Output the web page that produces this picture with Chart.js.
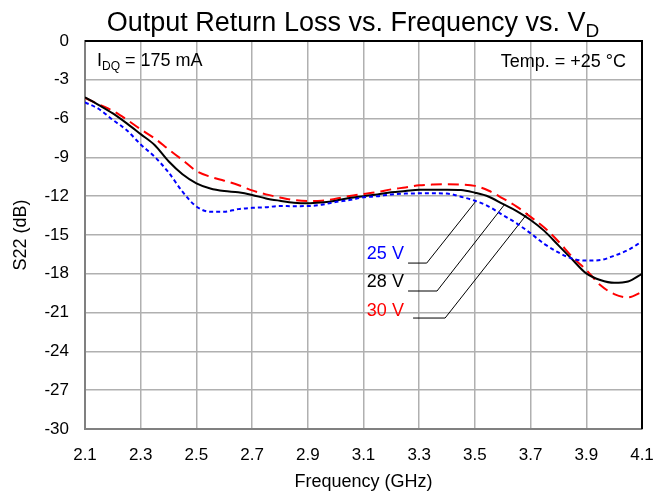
<!DOCTYPE html>
<html>
<head>
<meta charset="utf-8">
<script src="https://cdn.jsdelivr.net/npm/chart.js@4/dist/chart.umd.min.js"></script>
<style>
  html, body { margin: 0; padding: 0; background: #fff; }
  #wrap { width: 656px; height: 493px; }
</style>
</head>
<body>
<div id="wrap"><canvas id="s22Chart" width="656" height="493"></canvas></div>
<script>
// frequency points (GHz)
const freq = [2.1, 2.15, 2.2, 2.25, 2.3, 2.35, 2.4, 2.45, 2.5, 2.55, 2.6, 2.65, 2.7, 2.75, 2.8, 2.85, 2.9, 2.95,
              3.0, 3.05, 3.1, 3.15, 3.2, 3.25, 3.3, 3.35, 3.4, 3.45, 3.5, 3.55, 3.6, 3.65, 3.7, 3.75, 3.8, 3.85,
              3.9, 3.95, 4.0, 4.05, 4.1];

// S22 (dB) per drain voltage
const s22_25V = [-4.74, -5.26, -6.1, -6.9, -8.0, -8.95, -10.16, -11.65, -12.8, -13.2, -13.2, -13.0, -12.9, -12.85,
                 -12.76, -12.77, -12.76, -12.66, -12.45, -12.3, -12.09, -12.0, -11.86, -11.8, -11.78, -11.78, -11.8,
                 -12.04, -12.35, -12.8, -13.46, -14.1, -14.87, -15.7, -16.35, -16.83, -16.98, -16.94, -16.6, -16.16, -15.5];
const s22_28V = [-4.35, -4.95, -5.6, -6.37, -7.2, -8.04, -9.3, -10.3, -11.0, -11.4, -11.6, -11.7, -11.9, -12.17,
                 -12.35, -12.5, -12.55, -12.48, -12.35, -12.14, -12.0, -11.86, -11.7, -11.6, -11.5, -11.5, -11.5,
                 -11.52, -11.73, -12.04, -12.6, -13.15, -13.84, -14.7, -15.8, -16.9, -17.97, -18.48, -18.7, -18.6, -18.0];
const s22_30V = [-4.4, -4.9, -5.4, -6.08, -6.83, -7.53, -8.38, -9.2, -10.05, -10.5, -10.8, -11.13, -11.55, -11.86,
                 -12.1, -12.3, -12.37, -12.35, -12.2, -11.99, -11.83, -11.68, -11.47, -11.32, -11.16, -11.1, -11.08,
                 -11.1, -11.2, -11.58, -12.17, -12.8, -13.6, -14.44, -15.5, -16.7, -17.7, -18.87, -19.57, -19.82, -19.4];

const xTicks = [2.1, 2.3, 2.5, 2.7, 2.9, 3.1, 3.3, 3.5, 3.7, 3.9, 4.1];
const yTicks = [0, -3, -6, -9, -12, -15, -18, -21, -24, -27, -30];

// leader lines from labels to curves
const lead25X = [3.26, 3.327, 3.504], lead25Y = [-17.17, -17.17, -12.37];
const lead28X = [3.26, 3.364, 3.608], lead28Y = [-19.33, -19.33, -12.6];
const lead30X = [3.278, 3.393, 3.69], lead30Y = [-21.42, -21.42, -13.3];

const FONT = "'Liberation Sans', Arial, sans-serif";

const pts = (xs, ys) => xs.map((x, i) => ({ x: x, y: ys[i] }));

const curve = (label, ys, color, dash) => ({
    label: label,
    data: pts(freq, ys),
    borderColor: color,
    borderWidth: 2,
    borderDash: dash,
    pointRadius: 0,
    fill: false,
    tension: 0.4,
    cubicInterpolationMode: 'monotone'
});

const leader = (xs, ys) => ({
    label: '',
    data: pts(xs, ys),
    borderColor: '#000',
    borderWidth: 1,
    pointRadius: 0,
    fill: false,
    tension: 0
});

const textPlugin = {
    id: 'texts',
    afterDraw(chart) {
        const ctx = chart.ctx;
        const a = chart.chartArea;
        const xs = chart.scales.x, ys = chart.scales.y;
        ctx.save();

        // top / right frame
        ctx.strokeStyle = '#000';
        ctx.lineWidth = 2;
        ctx.beginPath();
        ctx.moveTo(a.left, a.top);
        ctx.lineTo(a.right, a.top);
        ctx.lineTo(a.right, a.bottom);
        ctx.stroke();

        // title with subscript
        ctx.fillStyle = '#000';
        ctx.textBaseline = 'alphabetic';
        ctx.font = `27px ${FONT}`;
        const main = 'Output Return Loss vs. Frequency vs. V';
        const wMain = ctx.measureText(main).width;
        ctx.font = `19px ${FONT}`;
        const wSub = ctx.measureText('D').width;
        let tx = 353 - (wMain + wSub) / 2;
        ctx.font = `27px ${FONT}`;
        ctx.textAlign = 'left';
        ctx.fillText(main, tx, 31);
        ctx.font = `19px ${FONT}`;
        ctx.fillText('D', tx + wMain, 37);

        // I_DQ note
        ctx.font = `18px ${FONT}`;
        let ix = a.left + 12;
        ctx.fillText('I', ix, 66);
        ix += ctx.measureText('I').width;
        ctx.font = `12px ${FONT}`;
        ctx.fillText('DQ', ix, 70);
        ix += ctx.measureText('DQ').width;
        ctx.font = `18px ${FONT}`;
        ctx.fillText(' = 175 mA', ix, 66);

        // temperature note
        ctx.textAlign = 'right';
        ctx.fillText('Temp. = +25 \u00B0C', a.right - 16, 67);

        // curve labels
        ctx.font = `18px ${FONT}`;
        ctx.textBaseline = 'middle';
        const lx = xs.getPixelForValue(3.245);
        ctx.fillStyle = '#0000ff';
        ctx.fillText('25 V', lx, ys.getPixelForValue(-16.47));
        ctx.fillStyle = '#000';
        ctx.fillText('28 V', lx, ys.getPixelForValue(-18.64));
        ctx.fillStyle = '#ff0000';
        ctx.fillText('30 V', lx, ys.getPixelForValue(-20.88));
        ctx.restore();
    }
};

new Chart(document.getElementById('s22Chart').getContext('2d'), {
    type: 'line',
    data: {
        datasets: [
            curve('25 V', s22_25V, '#0000ff', [4, 3]),
            curve('28 V', s22_28V, '#000000', []),
            curve('30 V', s22_30V, '#ff0000', [11, 6]),
            leader(lead25X, lead25Y),
            leader(lead28X, lead28Y),
            leader(lead30X, lead30Y)
        ]
    },
    options: {
        responsive: false,
        animation: false,
        layout: { padding: { top: 41, right: 14, left: 0, bottom: 0 } },
        plugins: { legend: { display: false }, tooltip: { enabled: false } },
        scales: {
            x: {
                type: 'linear',
                min: 2.1,
                max: 4.1,
                afterFit: s => { s.height = 64; s.paddingLeft = 0; s.paddingRight = 0; },
                afterBuildTicks: s => { s.ticks = xTicks.map(v => ({ value: v })); },
                ticks: {
                    color: '#000',
                    font: { family: FONT, size: 17 },
                    padding: 16,
                    maxRotation: 0,
                    callback: v => v.toFixed(1)
                },
                grid: { color: '#b0b0b0', lineWidth: 1.5, drawTicks: false },
                border: { display: true, color: '#808080', width: 2 },
                title: {
                    display: true,
                    text: 'Frequency (GHz)',
                    color: '#000',
                    font: { family: FONT, size: 18 },
                    padding: { top: 0, bottom: 0 }
                }
            },
            y: {
                min: -30,
                max: 0,
                afterFit: s => { s.width = 85; s.paddingTop = 0; s.paddingBottom = 0; },
                afterBuildTicks: s => { s.ticks = yTicks.map(v => ({ value: v })); },
                ticks: {
                    color: '#000',
                    font: { family: FONT, size: 17 },
                    padding: 16
                },
                grid: { color: '#b0b0b0', lineWidth: 1.5, drawTicks: false },
                border: { display: true, color: '#808080', width: 2 },
                title: {
                    display: true,
                    text: 'S22 (dB)',
                    color: '#000',
                    font: { family: FONT, size: 18 },
                    padding: { top: 10, bottom: 0 }
                }
            }
        }
    },
    plugins: [textPlugin]
});
</script>
</body>
</html>
